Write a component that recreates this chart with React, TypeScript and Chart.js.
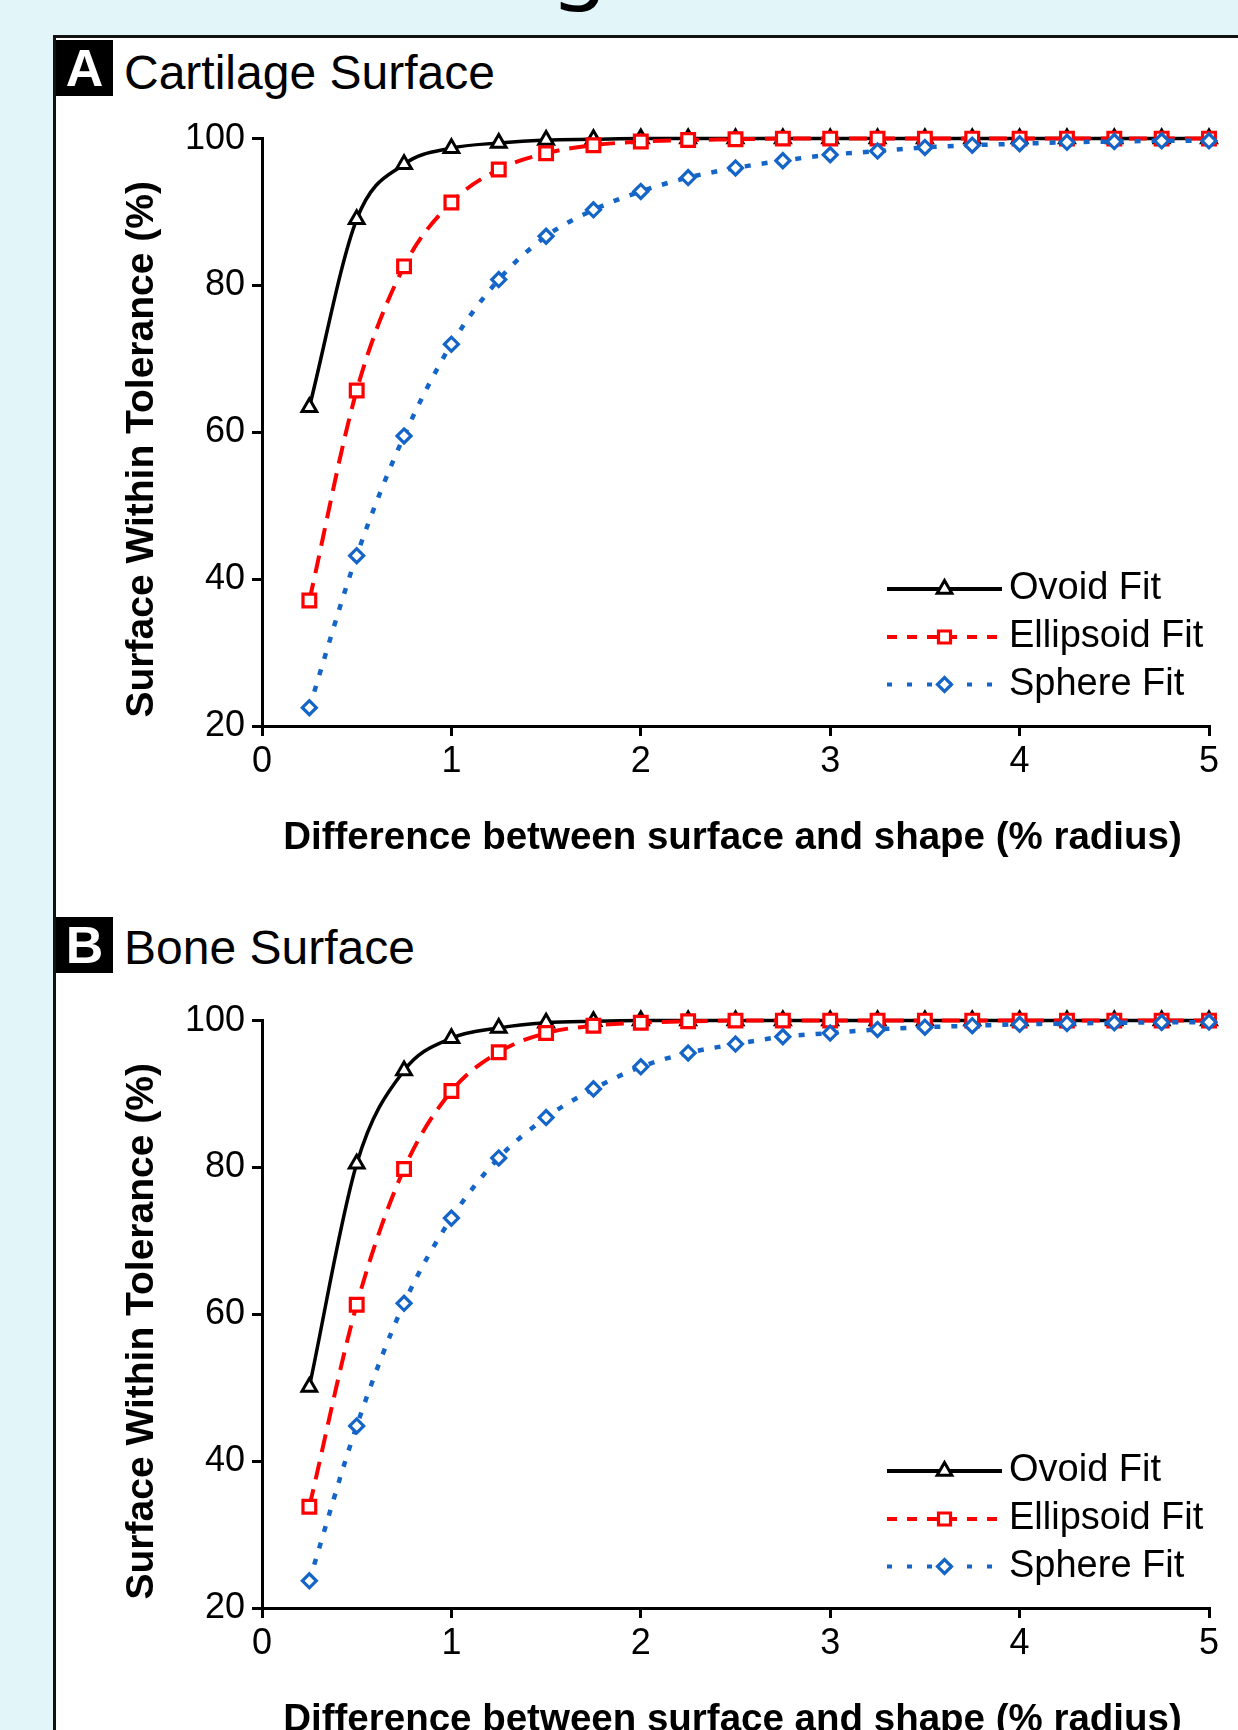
import React, { useEffect, useRef } from "react";
import { Chart, registerables } from "chart.js";

Chart.register(...registerables);

const FONT = "'Liberation Sans', Arial, Helvetica, sans-serif";

// ---------- data ----------
const xValues = [0.25, 0.5, 0.75, 1, 1.25, 1.5, 1.75, 2, 2.25, 2.5, 2.75, 3, 3.25, 3.5, 3.75, 4, 4.25, 4.5, 4.75, 5];
const xTicks = [0, 1, 2, 3, 4, 5];
const yTicks = [20, 40, 60, 80, 100];
const seriesLabels = ["Ovoid Fit", "Ellipsoid Fit", "Sphere Fit"];

const cartilageOvoid = [63.4, 89.0, 96.5, 98.7, 99.4, 99.8, 99.9, 100, 100, 100, 100, 100, 100, 100, 100, 100, 100, 100, 100, 100];
const cartilageEllipsoid = [37.1, 65.7, 82.6, 91.3, 95.8, 98.0, 99.1, 99.6, 99.8, 99.9, 100, 100, 100, 100, 100, 100, 100, 100, 100, 100];
const cartilageSphere = [22.5, 43.2, 59.5, 72.0, 80.8, 86.7, 90.3, 92.8, 94.7, 96.0, 97.0, 97.8, 98.3, 98.8, 99.1, 99.3, 99.5, 99.6, 99.7, 99.7];

const boneOvoid = [50.1, 80.5, 93.2, 97.6, 99.0, 99.7, 99.9, 100, 100, 100, 100, 100, 100, 100, 100, 100, 100, 100, 100, 100];
const boneEllipsoid = [33.8, 61.3, 79.8, 90.4, 95.7, 98.3, 99.3, 99.7, 99.9, 100, 100, 100, 100, 100, 100, 100, 100, 100, 100, 100];
const boneSphere = [23.7, 44.8, 61.5, 73.1, 81.3, 86.8, 90.7, 93.7, 95.6, 96.8, 97.8, 98.3, 98.8, 99.1, 99.3, 99.5, 99.6, 99.7, 99.75, 99.8];

const xTitle = "Difference between surface and shape (% radius)";
const yTitle = "Surface Within Tolerance (%)";

// ---------- styles ----------
const seriesStyles = [
  { color: "#000000", dash: [] as number[], legendDash: [] as number[], width: 3.5, point: "triangle", radius: 8.5, pbw: 3, order: 2 },
  { color: "#ff0000", dash: [18, 10], legendDash: [10, 10], width: 4, point: "rect", radius: 9, pbw: 3.2, order: 1 },
  { color: "#1565c8", dash: [6, 11], legendDash: [5, 15], width: 4.5, point: "rectRot", radius: 7, pbw: 3.2, order: 0 },
];

function drawMarker(ctx: CanvasRenderingContext2D, style: string, x: number, y: number, r: number) {
  ctx.beginPath();
  if (style === "triangle") {
    let rad = 0;
    ctx.moveTo(x + Math.sin(rad) * r, y - Math.cos(rad) * r);
    rad += (2 * Math.PI) / 3;
    ctx.lineTo(x + Math.sin(rad) * r, y - Math.cos(rad) * r);
    rad += (2 * Math.PI) / 3;
    ctx.lineTo(x + Math.sin(rad) * r, y - Math.cos(rad) * r);
  } else if (style === "rect") {
    const s = Math.SQRT1_2 * r;
    ctx.rect(x - s, y - s, 2 * s, 2 * s);
  } else {
    ctx.moveTo(x - r, y);
    ctx.lineTo(x, y - r);
    ctx.lineTo(x + r, y);
    ctx.lineTo(x, y + r);
  }
  ctx.closePath();
  ctx.fill();
  ctx.stroke();
}

const overlayPlugin = {
  id: "overlay",
  afterDraw(chart: any) {
    const { ctx, chartArea } = chart;
    ctx.save();
    ctx.fillStyle = "#000";
    ctx.font = `bold 38.5px ${FONT}`;
    ctx.textAlign = "center";
    ctx.textBaseline = "alphabetic";
    ctx.fillText(xTitle, (chartArea.left + chartArea.right) / 2 - 3, chartArea.bottom + 123);
    ctx.save();
    ctx.translate(chartArea.left - 109, (chartArea.top + chartArea.bottom) / 2 + 17);
    ctx.rotate(-Math.PI / 2);
    ctx.font = `bold 39px ${FONT}`;
    ctx.fillText(yTitle, 0, 0);
    ctx.restore();

    // legend
    const rowOffsets = [-137, -89, -41.5];
    const x0 = chartArea.right - 322;
    const x1 = chartArea.right - 207;
    const xm = (x0 + x1) / 2;
    seriesLabels.forEach((label, i) => {
      const st = seriesStyles[i];
      const y = chartArea.bottom + rowOffsets[i];
      ctx.lineWidth = 4;
      ctx.strokeStyle = st.color;
      ctx.setLineDash(st.legendDash);
      ctx.lineCap = "butt";
      ctx.beginPath();
      ctx.moveTo(x0, y);
      ctx.lineTo(x1, y);
      ctx.stroke();
      ctx.setLineDash([]);
      ctx.lineWidth = st.pbw;
      ctx.fillStyle = "#fff";
      drawMarker(ctx, st.point, xm, y, st.point === "rect" ? 8.5 : st.radius);
      ctx.fillStyle = "#000";
      ctx.font = `38px ${FONT}`;
      ctx.textAlign = "left";
      ctx.textBaseline = "alphabetic";
      ctx.fillText(label, chartArea.right - 200, y + 10);
    });
    ctx.restore();
  },
};

const CW = 1138;
const CH = 770;

function FitChart({ top, series }: { top: number; series: number[][] }) {
  const ref = useRef<HTMLCanvasElement | null>(null);
  useEffect(() => {
    if (!ref.current) return;
    const axisCommon = {
      type: "linear" as const,
      ticks: { color: "#000", font: { size: 36, family: FONT }, autoSkip: false, maxRotation: 0 },
      grid: { display: true, drawOnChartArea: false, drawTicks: true, tickLength: 10, color: "#000", lineWidth: 3 },
      border: { display: true, color: "#000", width: 3 },
      title: { display: false },
    };
    const chart = new Chart(ref.current, {
      type: "line",
      data: {
        datasets: series.map((vals, i) => {
          const st = seriesStyles[i];
          return {
            label: seriesLabels[i],
            data: xValues.map((x, j) => ({ x, y: vals[j] })),
            borderColor: st.color,
            borderWidth: st.width,
            borderDash: st.dash,
            borderCapStyle: "butt" as const,
            pointStyle: st.point as any,
            pointRadius: st.radius,
            pointBorderWidth: st.pbw,
            pointBorderColor: st.color,
            pointBackgroundColor: "#ffffff",
            cubicInterpolationMode: "monotone" as const,
            fill: false,
            clip: false as any,
            order: st.order,
          };
        }),
      },
      options: {
        responsive: false,
        animation: false,
        events: [],
        layout: { padding: { left: 0, right: 29, top: 27, bottom: 0 } },
        plugins: { legend: { display: false }, tooltip: { enabled: false }, title: { display: false } },
        scales: {
          x: {
            ...axisCommon,
            min: 0,
            max: 5,
            ticks: { ...axisCommon.ticks, padding: 4 },
            afterFit: (s: any) => {
              s.height = 154;
            },
            afterBuildTicks: (s: any) => {
              s.ticks = xTicks.map((v) => ({ value: v }));
            },
          },
          y: {
            ...axisCommon,
            min: 20,
            max: 100,
            ticks: { ...axisCommon.ticks, padding: 7 },
            afterFit: (s: any) => {
              s.width = 162;
            },
            afterBuildTicks: (s: any) => {
              s.ticks = yTicks.map((v) => ({ value: v }));
            },
          },
        },
      } as any,
      plugins: [overlayPlugin],
    });
    return () => chart.destroy();
  }, []);
  return (
    <canvas
      ref={ref}
      width={CW}
      height={CH}
      style={{ position: "absolute", left: 100, top, width: CW, height: CH }}
    />
  );
}

function PanelTitle({ letter, text, boxTop, baseline }: { letter: string; text: string; boxTop: number; baseline: number }) {
  return (
    <>
      <div
        style={{
          position: "absolute",
          left: 56,
          top: boxTop,
          width: 57,
          height: 56,
          background: "#000",
          color: "#fff",
          fontFamily: FONT,
          fontWeight: "bold",
          fontSize: 52,
          lineHeight: "56px",
          textAlign: "center",
        }}
      >
        {letter}
      </div>
      <div
        style={{
          position: "absolute",
          left: 124,
          top: baseline - 40.6,
          fontFamily: FONT,
          fontSize: 48,
          lineHeight: "48px",
          color: "#000",
          whiteSpace: "nowrap",
        }}
      >
        {text}
      </div>
    </>
  );
}

export default function App() {
  return (
    <div
      style={{
        position: "absolute",
        left: 0,
        top: 0,
        width: 1238,
        height: 1730,
        overflow: "hidden",
        background: "#e2f6fa",
      }}
    >
      <div
        style={{
          position: "absolute",
          left: 552,
          top: -90,
          fontFamily: "'Noto Sans', sans-serif",
          fontSize: 90,
          lineHeight: "90px",
          color: "#000",
        }}
      >
        g
      </div>
      <div
        style={{
          position: "absolute",
          left: 53,
          top: 35,
          width: 1300,
          height: 1800,
          background: "#fff",
          borderLeft: "3px solid #111",
          borderTop: "3px solid #111",
        }}
      />
      <PanelTitle letter="A" text="Cartilage Surface" boxTop={40} baseline={90} />
      <PanelTitle letter="B" text="Bone Surface" boxTop={917} baseline={965} />
      <FitChart top={110} series={[cartilageOvoid, cartilageEllipsoid, cartilageSphere]} />
      <FitChart top={992} series={[boneOvoid, boneEllipsoid, boneSphere]} />
    </div>
  );
}
